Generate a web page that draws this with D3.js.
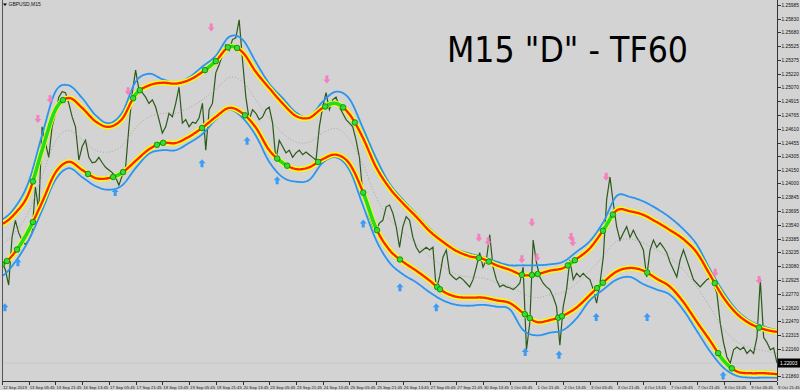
<!DOCTYPE html>
<html><head><meta charset="utf-8">
<script src="https://cdn.jsdelivr.net/npm/d3@7"></script>
<style>
html,body{margin:0;padding:0;background:#d3d3d3;}
svg{display:block;}
</style></head><body>
<svg id="c" width="800" height="390"></svg>
<script>
// ---------------- data ----------------
const symbolText = "GBPUSD,M15";
const titleText = 'M15 "D" - TF60';

// time axis labels, one every 64 M15 bars
const timeLabels = ["12 Sep 2019","13 Sep 05:45","13 Sep 21:45","16 Sep 13:45","17 Sep 05:45","17 Sep 21:45",
  "18 Sep 13:45","19 Sep 05:45","19 Sep 21:45","20 Sep 13:45","23 Sep 05:45","23 Sep 21:45","24 Sep 13:45",
  "25 Sep 05:45","25 Sep 21:45","26 Sep 13:45","27 Sep 05:45","27 Sep 21:45","30 Sep 13:45","1 Oct 05:45",
  "1 Oct 21:45","2 Oct 13:45","3 Oct 05:45","3 Oct 21:45","4 Oct 13:45","7 Oct 05:45","7 Oct 21:45",
  "8 Oct 13:45","9 Oct 05:45","9 Oct 21:45"];
const barsPerLabel = 64;

// price axis labels
const priceTicks = [1.25985,1.25830,1.25680,1.25525,1.25375,1.25220,1.25070,1.24915,1.24765,1.24610,
  1.24455,1.24305,1.24150,1.24000,1.23845,1.23695,1.23540,1.23385,1.23235,1.23080,1.22925,1.22770,
  1.22620,1.22470,1.22315,1.22160,1.22010,1.21860];

// close prices, one value every 8 bars
const closeStep = 8;
const closes = [
1.2313,1.2304,1.2287,1.2340,1.2359,1.2345,1.2337,1.2332,1.2337,1.2345,
1.2396,1.2370,1.2463,1.2445,1.2429,1.2463,1.2478,1.2496,1.2502,1.2501,
1.2489,1.2474,1.2463,1.2426,1.2441,1.2448,1.2429,1.2423,1.2424,1.2429,
1.2423,1.2418,1.2415,1.2412,1.2407,1.2398,1.2409,1.2418,1.2463,1.2501,
1.2526,1.2504,1.2501,1.2496,1.2489,1.2493,1.2485,1.2471,1.2456,1.2463,
1.2478,1.2474,1.2489,1.2507,1.2467,1.2471,1.2463,1.2468,1.2467,1.2473,
1.2489,1.2437,1.2482,1.2489,1.2523,1.2532,1.2543,1.2554,1.2548,1.2560,
1.2562,1.2582,1.2537,1.2496,1.2471,1.2482,1.2478,
1.2471,1.2474,1.2482,1.2485,1.2467,1.2426,1.2448,1.2441,1.2434,1.2437,
1.2429,1.2434,1.2437,1.2432,1.2435,1.2432,1.2429,1.2426,1.2463,1.2485,
1.2501,1.2482,1.2493,1.2496,1.2485,1.2478,1.2471,1.2467,1.2463,1.2448,
1.2429,1.2389,1.2378,1.2363,1.2352,1.2348,1.2356,1.2359,1.2374,1.2376,
1.2367,1.2352,1.2329,1.2352,1.2363,1.2359,1.2340,1.2329,1.2323,1.2326,
1.2329,1.2326,1.2329,1.2282,1.2296,1.2318,1.2326,1.2300,1.2296,1.2293,
1.2296,1.2293,1.2289,1.2285,1.2293,1.2307,1.2323,1.2307,1.2315,1.2343,
1.2307,1.2293,1.2285,
1.2287,1.2285,1.2284,1.2282,1.2285,1.2289,1.2307,1.2215,1.2245,1.2337,
1.2312,1.2296,1.2289,1.2285,1.2282,1.2274,1.2263,1.2220,1.2263,1.2282,
1.2315,1.2293,1.2300,1.2296,1.2300,1.2296,1.2293,1.2282,1.2267,1.2289,
1.2318,1.2382,1.2407,1.2378,1.2352,1.2337,1.2345,1.2352,1.2340,1.2348,
1.2340,1.2334,1.2326,1.2296,1.2326,1.2337,1.2329,1.2334,1.2329,1.2323,
1.2312,1.2304,1.2296,1.2315,1.2326,1.2315,1.2304,1.2293,1.2289,1.2285,
1.2289,1.2293,1.2295,1.2289,1.2278,1.2245,1.2223,1.2207,1.2200,1.2215,
1.2218,1.2215,1.2218,1.2211,1.2215,1.2211,1.2229,1.2293,1.2229,1.2223,
1.2215,1.2217,1.22003];

// indicator lines, one value every 32 bars
const bandStep = 32;
const upperBand = [1.2355,1.2367,1.2389,1.2437,1.2482,1.2495,1.2484,1.2469,1.2463,1.2472,1.2499,1.2509,1.2512,1.2511,1.2515,1.2524,1.2536,1.2552,1.2546,1.2524,1.2506,1.2489,1.2475,1.2473,1.2484,1.2489,1.2477,1.2451,1.2418,1.2395,1.2378,1.2363,1.2347,1.2335,1.2325,1.2319,1.2316,1.2309,1.2304,1.2298,1.2299,1.2303,1.2306,1.2316,1.2328,1.2348,1.2370,1.2369,1.2365,1.2357,1.2348,1.2338,1.2323,1.2298,1.2273,1.2255,1.2244,1.2238,1.2235];
const upperOuter = [1.2360,1.2374,1.2402,1.2454,1.2502,1.2509,1.2495,1.2476,1.2467,1.2479,1.2513,1.2522,1.2516,1.2512,1.2518,1.2530,1.2542,1.2563,1.2560,1.2535,1.2511,1.2495,1.2479,1.2474,1.2491,1.2502,1.2494,1.2462,1.2428,1.2400,1.2382,1.2366,1.2350,1.2337,1.2327,1.2322,1.2318,1.2313,1.2309,1.2309,1.2309,1.2310,1.2313,1.2324,1.2336,1.2357,1.2386,1.2385,1.2380,1.2372,1.2362,1.2349,1.2332,1.2304,1.2279,1.2259,1.2247,1.2241,1.2237];
const lowerBand = [1.2310,1.2324,1.2348,1.2379,1.2412,1.2424,1.2415,1.2406,1.2406,1.2412,1.2425,1.2438,1.2445,1.2445,1.2452,1.2462,1.2474,1.2484,1.2478,1.2462,1.2437,1.2423,1.2416,1.2418,1.2427,1.2432,1.2422,1.2391,1.2350,1.2326,1.2313,1.2303,1.2292,1.2280,1.2274,1.2273,1.2273,1.2270,1.2267,1.2256,1.2246,1.2248,1.2253,1.2262,1.2276,1.2290,1.2302,1.2306,1.2303,1.2294,1.2285,1.2268,1.2246,1.2225,1.2203,1.2191,1.2189,1.2189,1.2188];
const lowerOuter = [1.2297,1.2313,1.2337,1.2370,1.2404,1.2417,1.2407,1.2397,1.2393,1.2398,1.2417,1.2433,1.2437,1.2437,1.2445,1.2455,1.2471,1.2482,1.2473,1.2453,1.2424,1.2407,1.2402,1.2404,1.2423,1.2429,1.2415,1.2376,1.2337,1.2312,1.2299,1.2290,1.2279,1.2270,1.2265,1.2264,1.2265,1.2263,1.2260,1.2237,1.2231,1.2234,1.2237,1.2250,1.2270,1.2282,1.2293,1.2296,1.2288,1.2282,1.2276,1.2259,1.2236,1.2213,1.2195,1.2186,1.2184,1.2184,1.2184];
const midLine = [1.2333,1.2346,1.2369,1.2408,1.2447,1.2459,1.2449,1.2437,1.2435,1.2442,1.2462,1.2474,1.2478,1.2478,1.2484,1.2493,1.2505,1.2518,1.2513,1.2493,1.2472,1.2456,1.2446,1.2446,1.2456,1.2461,1.2449,1.2421,1.2385,1.2360,1.2346,1.2333,1.2319,1.2308,1.2299,1.2296,1.2295,1.2290,1.2286,1.2277,1.2273,1.2276,1.2279,1.2289,1.2303,1.2319,1.2336,1.2338,1.2334,1.2326,1.2317,1.2304,1.2285,1.2262,1.2238,1.2224,1.2217,1.2214,1.2211];

// signal arrows (bar index, price)
const sellBars   = [86,115,302,501,778,1142,1164,1245,1269,1281,1363,1367,1447,1708,1813];
const sellPrices = [1.2471,1.2493,1.2502,1.2573,1.2515,1.2339,1.2335,1.2315,1.2356,1.2317,1.2340,1.2334,1.2407,1.2300,1.2292];
const buyBars    = [7,38,271,479,587,659,865,953,1040,1253,1334,1423,1545,1727];
const buyPrices  = [1.2263,1.2313,1.2391,1.2423,1.2448,1.2404,1.2356,1.2285,1.2263,1.2213,1.2210,1.2252,1.2252,1.2187];

// band touches (bar ranges)
const upperTouchStart = [74,314,486,541,774,845,1142,1166,1245,1269,1355,1439,1707,1813];
const upperTouchEnd   = [146,330,512,563,817,845,1142,1166,1245,1283,1372,1463,1707,1813];
const lowerTouchStart = [0,36,206,266,371,479,582,659,757,865,953,1042,1252,1332,1425,1545,1715];
const lowerTouchEnd   = [12,74,206,290,386,479,582,683,757,898,953,1049,1264,1341,1439,1545,1748];

// ---------------- drawing ----------------
const pL = 2, pR = 777, pT = 0, pB = 381;
const lastBar = (closes.length - 1) * closeStep;
const x = d3.scaleLinear().domain([0, lastBar]).range([pL, pR]);
const y = d3.scaleLinear().domain([1.21803, 1.2604]).range([pB, pT]);

const svg = d3.select("#c");
svg.append("rect").attr("width", 800).attr("height", 390).attr("fill", "#d3d3d3");

svg.append("defs").append("clipPath").attr("id", "plot")
  .append("rect").attr("x", pL).attr("y", pT).attr("width", pR - pL).attr("height", pB - pT);

const g = svg.append("g").attr("clip-path", "url(#plot)");

function catmull(arr, step, bar) {
  const f = bar / step;
  let i = Math.floor(f);
  if (i >= arr.length - 1) return arr[arr.length - 1];
  if (i < 0) return arr[0];
  const t = f - i;
  const p0 = arr[Math.max(i - 1, 0)], p1 = arr[i], p2 = arr[i + 1], p3 = arr[Math.min(i + 2, arr.length - 1)];
  return 0.5 * ((2 * p1) + (-p0 + p2) * t + (2 * p0 - 5 * p1 + 4 * p2 - p3) * t * t + (-p0 + 3 * p1 - 3 * p2 + p3) * t * t * t);
}
function bandPts(arr, s, e) {
  const pts = [];
  for (let b = s; b <= e; b += 2) pts.push([x(b), y(catmull(arr, bandStep, b))]);
  if (pts.length === 0 || (e - s) % 2 !== 0) pts.push([x(e), y(catmull(arr, bandStep, e))]);
  return pts;
}
const lineXY = d3.line();

// current price line (behind everything)
const lastPrice = closes[closes.length - 1];
g.append("line").attr("x1", pL).attr("x2", pR).attr("y1", y(lastPrice)).attr("y2", y(lastPrice))
  .attr("stroke", "#c9c9c9").attr("stroke-width", 1);

// price line
const priceLine = d3.line().x((d, i) => x(i * closeStep)).y(d => y(d));
g.append("path").datum(closes).attr("d", priceLine)
  .attr("fill", "none").attr("stroke", "#2b5a1a").attr("stroke-width", 1.2);

// mid dotted line
g.append("path").attr("d", lineXY(bandPts(midLine, 0, lastBar)))
  .attr("fill", "none").attr("stroke", "#9a9a9a").attr("stroke-width", 0.8).attr("stroke-dasharray", "1,2");

// outer blue lines
[upperOuter, lowerOuter].forEach(arr => {
  g.append("path").attr("d", lineXY(bandPts(arr, 0, lastBar)))
    .attr("fill", "none").attr("stroke", "#2a95f0").attr("stroke-width", 1.8);
});
// bands: yellow + red
[upperBand, lowerBand].forEach(arr => {
  const d = lineXY(bandPts(arr, 0, lastBar));
  g.append("path").attr("d", d).attr("fill", "none").attr("stroke", "#ffff00").attr("stroke-width", 5.2);
  g.append("path").attr("d", d).attr("fill", "none").attr("stroke", "#ff2400").attr("stroke-width", 2.3);
});

// touches
function drawTouches(arr, starts, ends) {
  starts.forEach((s, k) => {
    const e = ends[k];
    if (e > s) {
      g.append("path").attr("d", lineXY(bandPts(arr, s, e)))
        .attr("fill", "none").attr("stroke", "#22dd22").attr("stroke-width", 3.6).attr("stroke-linecap", "round");
    }
    const ends2 = e > s ? [s, e] : [s];
    ends2.forEach(b => {
      g.append("circle").attr("cx", x(b)).attr("cy", y(catmull(arr, bandStep, b))).attr("r", 2.8)
        .attr("fill", "#33dd33").attr("stroke", "#0f7a0f").attr("stroke-width", 0.8);
    });
  });
}
drawTouches(upperBand, upperTouchStart, upperTouchEnd);
drawTouches(lowerBand, lowerTouchStart, lowerTouchEnd);

// arrows
const downArrow = "M-1.5,-4.5L1.5,-4.5L1.5,-0.5L3.5,-0.5L0,3.5L-3.5,-0.5L-1.5,-0.5Z";
const upArrow = "M-1.5,4.5L1.5,4.5L1.5,0.5L3.5,0.5L0,-3.5L-3.5,0.5L-1.5,0.5Z";
sellBars.forEach((b, k) => {
  g.append("path").attr("d", downArrow).attr("transform", `translate(${x(b)},${y(sellPrices[k])})`)
    .attr("fill", "#f57fc0");
});
buyBars.forEach((b, k) => {
  g.append("path").attr("d", upArrow).attr("transform", `translate(${x(b)},${y(buyPrices[k])})`)
    .attr("fill", "#3b9cf5");
});

// frame
svg.append("line").attr("x1", pL + 0.5).attr("x2", pL + 0.5).attr("y1", 0).attr("y2", pB)
  .attr("stroke", "#555").attr("stroke-width", 1);

// axes
const axisFont = "Liberation Sans, Arial, sans-serif";
const yAxis = d3.axisRight(y).tickValues(priceTicks).tickFormat(d3.format(".5f"))
  .tickSize(3).tickSizeOuter(0).tickPadding(1);
const ya = svg.append("g").attr("transform", `translate(${pR + 0.5},0)`).call(yAxis);
ya.selectAll("text").attr("font-size", "4.8px").attr("font-family", axisFont).attr("fill", "#111");
ya.selectAll("line,path").attr("stroke", "#333").attr("shape-rendering", "crispEdges");
ya.select(".domain").attr("d", `M0,0V${pB}`);

const xAxis = d3.axisBottom(x).tickValues(timeLabels.map((t, i) => i * barsPerLabel))
  .tickFormat((d, i) => timeLabels[i]).tickSize(3).tickSizeOuter(0).tickPadding(1.5);
const xa = svg.append("g").attr("transform", `translate(0,${pB + 0.5})`).call(xAxis);
xa.selectAll("text").attr("font-size", "4.2px").attr("font-family", axisFont)
  .attr("fill", "#111").attr("text-anchor", "start").attr("x", 0.5);
xa.selectAll("line,path").attr("stroke", "#333").attr("shape-rendering", "crispEdges");
xa.select(".domain").attr("d", `M${pL},0H${pR}`);

// current price box
const by = y(lastPrice);
svg.append("rect").attr("x", pR + 1).attr("y", by - 4.5).attr("width", 22).attr("height", 9).attr("fill", "#000");
svg.append("text").attr("x", pR + 3).attr("y", by + 1.8).text(d3.format(".5f")(lastPrice))
  .attr("font-size", "4.8px").attr("font-family", axisFont).attr("fill", "#fff");

// symbol label
svg.append("path").attr("d", "M3,3.5L7,3.5L5,6Z").attr("fill", "#000");
svg.append("text").attr("x", 8.5).attr("y", 6.3).text(symbolText)
  .attr("font-size", "5px").attr("font-family", axisFont).attr("fill", "#111");

// title
svg.append("text").attr("x", 447).attr("y", 62).text(titleText)
  .attr("font-size", "35px").attr("font-family", "DejaVu Sans, sans-serif").attr("fill", "#000")
  .attr("textLength", 241).attr("lengthAdjust", "spacingAndGlyphs");
</script>
</body></html>
